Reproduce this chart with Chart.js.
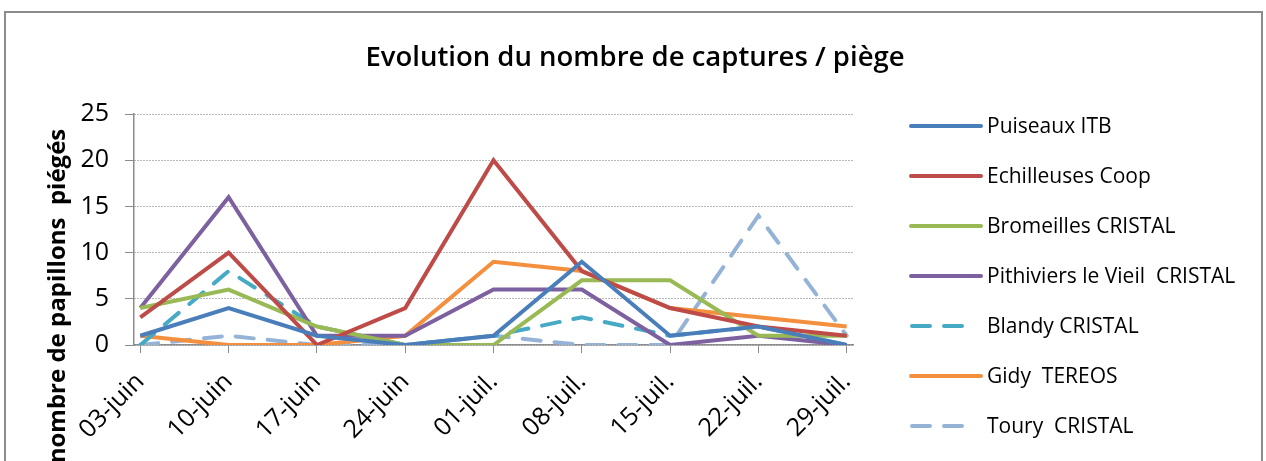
<!DOCTYPE html>
<html lang="fr">
<head>
    <meta charset="UTF-8">
    <title>Evolution du nombre de captures / piège</title>
    <script src="https://cdn.jsdelivr.net/npm/chart.js"></script>
    <style>
        html, body {
            margin: 0;
            padding: 0;
            background: #fff;
            overflow: hidden;
        }
        .chart-container {
            position: relative;
            width: 1266px;
            height: 520px;
        }
    </style>
</head>
<body>
    <div class="chart-container">
        <canvas id="capturesChart"></canvas>
    </div>

    <script>
        const FONT = "'Open Sans', sans-serif";

        const dates = ['03-juin', '10-juin', '17-juin', '24-juin', '01-juil.', '08-juil.', '15-juil.', '22-juil.', '29-juil.'];
        const dayOffsets = [0, 7, 14, 21, 28, 35, 42, 49, 56];
        const yTicks = [0, 5, 10, 15, 20, 25];

        const puiseaux = [1, 4, 1, 0, 1, 9, 1, 2, 0];
        const echilleuses = [3, 10, 0, 4, 20, 8, 4, 2, 1];
        const bromeilles = [4, 6, 2, 0, 0, 7, 7, 1, 1];
        const pithiviers = [4, 16, 1, 1, 6, 6, 0, 1, 0];
        const blandy = [0, 8, 2, 0, 1, 3, 1, 2, 0];
        const gidy = [1, 0, 0, 1, 9, 8, 4, 3, 2];
        const toury = [0, 1, 0, 0, 1, 0, 0, 14, 1];

        function points(values) {
            return values.map((v, i) => ({ x: dayOffsets[i], y: v }));
        }

        function series(label, values, color, dash) {
            return {
                label: label,
                data: points(values),
                borderColor: color,
                backgroundColor: color,
                borderWidth: 4,
                borderDash: dash || [],
                borderCapStyle: dash ? 'round' : 'butt',
                borderJoinStyle: 'miter',
                pointRadius: 0,
                tension: 0,
                fill: false
            };
        }

        // title, y axis title, legend and frame drawn on the canvas
        const decorations = {
            id: 'decorations',
            afterDraw(chart) {
                const ctx = chart.ctx;
                ctx.save();

                ctx.strokeStyle = '#8c8c8c';
                ctx.lineWidth = 2;
                ctx.strokeRect(5, 12, 1257, 560);

                ctx.fillStyle = '#000';
                ctx.font = '600 27.5px ' + FONT;
                ctx.textAlign = 'center';
                ctx.textBaseline = 'middle';
                ctx.fillText('Evolution du nombre de captures / piège', 635, 58);

                ctx.save();
                ctx.translate(58, 296);
                ctx.rotate(-Math.PI / 2);
                ctx.font = 'bold 24px ' + FONT;
                ctx.fillText('nombre de papillons  piégés', 0, 0);
                ctx.restore();

                ctx.textAlign = 'left';
                ctx.font = '21px ' + FONT;
                chart.data.datasets.forEach((ds, i) => {
                    const y = 126 + i * 50;
                    ctx.strokeStyle = ds.borderColor;
                    ctx.lineWidth = 4;
                    ctx.lineCap = 'round';
                    ctx.setLineDash(ds.borderDash.length ? [18, 14] : []);
                    ctx.beginPath();
                    ctx.moveTo(ds.borderDash.length ? 912 : 911, y);
                    ctx.lineTo(ds.borderDash.length ? 966 : 981, y);
                    ctx.stroke();
                    ctx.setLineDash([]);
                    ctx.fillStyle = '#000';
                    ctx.fillText(ds.label, 987, y + 1);
                });
                ctx.restore();
            }
        };

        const ctx = document.getElementById('capturesChart').getContext('2d');
        const capturesChart = new Chart(ctx, {
            type: 'line',
            data: {
                datasets: [
                    series('Puiseaux ITB', puiseaux, '#4a7ebb'),
                    series('Echilleuses Coop', echilleuses, '#be4b48'),
                    series('Bromeilles CRISTAL', bromeilles, '#98b954'),
                    series('Pithiviers le Vieil  CRISTAL', pithiviers, '#7d60a0'),
                    series('Blandy CRISTAL', blandy, '#46aac5', [18, 14]),
                    series('Gidy  TEREOS', gidy, '#f38f3d'),
                    series('Toury  CRISTAL', toury, '#95b3d7', [18, 14])
                ]
            },
            plugins: [decorations],
            options: {
                responsive: true,
                maintainAspectRatio: false,
                animation: false,
                layout: {
                    padding: { top: 114, right: 413, bottom: 45, left: 0 }
                },
                plugins: {
                    legend: { display: false },
                    title: { display: false },
                    tooltip: { enabled: false }
                },
                scales: {
                    x: {
                        type: 'linear',
                        min: -0.5,
                        max: 56.5,
                        afterBuildTicks: scale => {
                            scale.ticks = dayOffsets.map(v => ({ value: v }));
                        },
                        afterFit: scale => { scale.height = 130; },
                        grid: {
                            drawOnChartArea: false,
                            drawTicks: true,
                            tickLength: 8,
                            tickColor: '#8c8c8c'
                        },
                        border: { color: '#8c8c8c', width: 1.5 },
                        ticks: {
                            autoSkip: false,
                            maxRotation: 45,
                            minRotation: 45,
                            padding: 14,
                            color: '#000',
                            font: { family: FONT, size: 25 },
                            callback: value => dates[dayOffsets.indexOf(value)]
                        }
                    },
                    y: {
                        min: 0,
                        max: 25,
                        afterBuildTicks: scale => {
                            scale.ticks = yTicks.map(v => ({ value: v }));
                        },
                        afterFit: scale => { scale.width = 134; },
                        grid: {
                            color: '#6e6e6e',
                            lineWidth: 1,
                            tickLength: 9,
                            tickColor: '#8c8c8c'
                        },
                        border: { color: '#8c8c8c', width: 1.5, dash: [1, 2] },
                        ticks: {
                            padding: 16,
                            color: '#000',
                            font: { family: FONT, size: 25 }
                        }
                    }
                }
            }
        });
    </script>
</body>
</html>
